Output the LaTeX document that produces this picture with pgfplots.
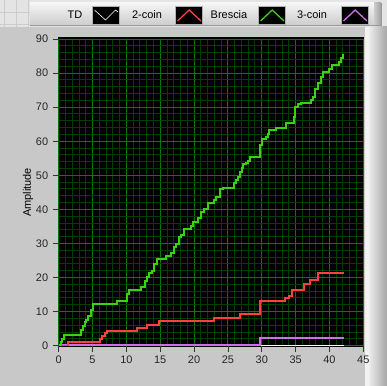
\documentclass[border=0pt]{standalone}
\usepackage{pgfplots}
\pgfplotsset{compat=1.18}
\usepackage{fontspec}
\setmainfont{Liberation Sans}
\definecolor{panel}{RGB}{200,200,200}
\definecolor{toparea}{RGB}{228,228,228}
\definecolor{legbar}{RGB}{205,205,205}
\definecolor{majorg}{RGB}{0,125,0}
\definecolor{minorg}{RGB}{0,62,0}
\definecolor{cred}{RGB}{255,64,64}
\definecolor{cgreen}{RGB}{60,210,20}
\definecolor{cpurple}{RGB}{210,110,235}
\begin{document}
\begin{tikzpicture}[x=1bp,y=1bp]
\path[use as bounding box] (0,0) rectangle (387,386);
\fill[panel] (0,0) rectangle (387,386);
% top light area
\fill[toparea] (0,359) rectangle (387,386);
\foreach \gx in {4,16,28} {\draw[gray!40, line width=0.5bp] (\gx,359) -- (\gx,386);}
\foreach \gy in {362,374} {\draw[gray!40, line width=0.5bp] (0,\gy) -- (30,\gy);}
% right bevel
\shade[left color=white!85!gray, right color=gray!70] (369,0) rectangle (387,359);
\fill[white!90!gray] (365,0) rectangle (369,359);
% legend bar
\shade[top color=white!92!gray, bottom color=legbar] (30,361) rectangle (381,383);
\draw[gray!80, line width=0.8bp] (30,361) -- (381,361) -- (381,383);
\shade[left color=legbar, right color=gray!75] (374,361) rectangle (381,383);
\begin{scope}[font=\fontsize{11}{12}\selectfont]
\node at (75,371) {TD};
\node at (147,371) {2-coin};
\node at (229,371) {Brescia};
\node at (312,371) {3-coin};
\end{scope}
\foreach \bx in {92.3,175.7,258.7,341.7} {
  \fill[black] (\bx,362) rectangle (\bx+27,380);
  \draw[gray!60, line width=0.6bp] (\bx,362) rectangle (\bx+27,380);
}
\draw[white, line width=0.6bp] (94.5,376) -- (105.5,366) -- (115.5,376) -- (118,374);
\draw[cred, line width=1.3bp] (177.5,365) -- (189.2,376) -- (201,365);
\draw[cgreen, line width=1.3bp] (260.5,365) -- (272.2,376) -- (284,365);
\draw[cpurple, line width=1.3bp] (343.5,365) -- (355.2,376) -- (367,365);
% plot area background slightly larger
\fill[black] (58,39) rectangle (364,349);
\begin{axis}[
  at={(58.7bp,40.3bp)}, anchor=south west,
  scale only axis, width=304.6bp, height=306.7bp,
  xmin=0, xmax=45, ymin=0, ymax=90,
  axis background/.style={fill=black},
  axis line style={draw=none},
  xtick={0,5,...,45}, ytick={0,10,...,90},
  minor x tick num=4, minor y tick num=4,
  grid=both,
  major grid style={majorg, line width=1bp},
  minor grid style={minorg, line width=1bp},
  tick align=outside, xtick pos=bottom, ytick pos=left,
  major tick length=6bp, minor tick length=0bp,
  major tick style={black!80, line width=0.8bp},
  /pgf/number format/assume math mode=true,
  ticklabel style={font=\fontsize{11}{12}\selectfont, text=black!85},
  xticklabel style={yshift=-1bp},
  yticklabel style={xshift=-1bp},
  ylabel={Amplitude},
  ylabel style={at={(axis description cs:-0.101,0.5)}, anchor=center, font=\fontsize{11}{12}\selectfont},
]
\addplot[white, const plot, line width=2bp, mark=none] coordinates {(0,0) (42.1,0)};
\addplot[cpurple, const plot, line width=2bp, mark=none] coordinates {(0,0.3) (29.7,0.3) (29.7,2.35) (42.1,2.35)};
\addplot[cred, const plot, line width=2bp, mark=none] coordinates {
(0,0) (1.4,1.1) (6.1,2.0) (6.4,2.9) (6.8,3.6) (7.1,4.4) (11.5,5.1) (13.0,6.2)
(14.8,7.2) (22.9,8.1) (26.8,9.3) (29.7,13.0) (33.5,13.9) (34.0,14.7) (34.5,16.3)
(36.2,18.0) (37.1,19.3) (38.3,21.2) (42.1,21.2)};
\addplot[cgreen, const plot, line width=2bp, mark=none] coordinates {
(0,0) (0.3,1) (0.5,2) (0.8,3.1) (3.3,4.6) (3.6,5.8) (3.9,7.0) (4.1,7.5) (4.4,8.7)
(4.7,10.5) (5.0,12.2) (8.6,13.2) (10.1,15.2) (10.4,16.4) (12.2,17.3) (12.8,19.1)
(13.1,20.3) (13.4,21.4) (13.8,22.0) (14.1,24.0) (14.5,25.3) (15.9,26.3) (16.6,27.3)
(17.0,29.0) (17.3,29.8) (17.7,31.8) (18.1,32.5) (18.5,34.2) (19.6,35.1) (19.9,36.4)
(20.6,37.4) (21.0,39.3) (21.4,40.0) (22.0,42.0) (23.0,42.7) (23.3,43.7) (23.8,44.9)
(23.9,45.9) (24.2,46.2) (25.9,47.7) (26.2,48.6) (26.5,49.5) (26.8,51.0) (27.1,52.0)
(27.3,53.3) (27.6,53.7) (28.0,54.3) (28.3,55.5) (29.7,58.9) (30.0,60.4) (30.1,60.6)
(30.6,61.3) (30.9,62.0) (31.0,63.3) (32.1,64.0) (33.6,65.4) (34.7,67.2) (34.9,70.1)
(35.3,70.9) (35.8,71.3) (37.3,72.1) (37.6,73.1) (37.9,75.2) (38.3,77.0) (38.7,78.9)
(39.1,80.2) (40.0,81.1) (40.4,82.4) (41.4,83.3) (41.7,84.3) (42.0,85.3) (42.2,85.3)};
\end{axis}
\end{tikzpicture}
\end{document}
